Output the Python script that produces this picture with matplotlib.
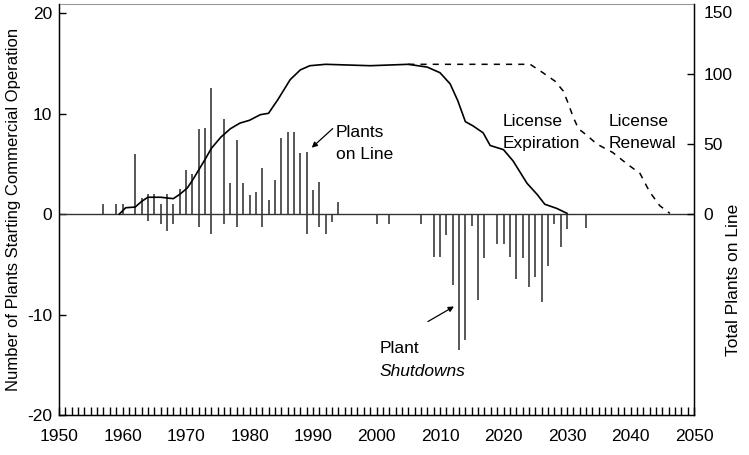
import numpy as np
import matplotlib
matplotlib.use('Agg')
import matplotlib.pyplot as plt

plt.rcParams['font.family'] = ['Liberation Sans', 'DejaVu Sans']
plt.rcParams['font.size'] = 12.5

# Plants starting commercial operation, per year
start_years = [1957, 1959, 1960, 1962, 1963, 1964, 1965, 1966, 1967, 1968, 1969,
               1970, 1971, 1972, 1973, 1974, 1976, 1977, 1978, 1979, 1980, 1981,
               1982, 1983, 1984, 1985, 1986, 1987, 1988, 1989, 1990, 1991, 1994]
starts = [1, 1, 1, 6, 1.6, 2, 2, 1, 2, 1, 2.5,
          4.4, 4, 8.5, 8.6, 12.5, 9.5, 3.1, 7.4, 3.1, 1.9, 2.2,
          4.6, 1.4, 3.4, 7.6, 8.2, 8.2, 6.1, 6.2, 2.4, 3.2, 1.2]

# Plant shutdowns, per year (negative)
stop_years = [1964, 1966, 1967, 1968, 1972, 1974, 1976, 1978, 1982, 1989, 1991,
              1992, 1993, 2000, 2002, 2007, 2009, 2010, 2011, 2012, 2013, 2014,
              2015, 2016, 2017, 2019, 2020, 2021, 2022, 2023, 2024, 2025, 2026,
              2027, 2028, 2029, 2030, 2033]
stops = [-0.7, -1, -1.7, -1, -1.3, -2, -1, -1.3, -1.3, -2, -1.3,
         -2, -0.8, -1, -1, -1, -4.3, -4.3, -2.1, -7.1, -13.5, -12.5,
         -1.2, -8.6, -4.4, -3, -3, -4.3, -6.5, -4.4, -7.3, -6.3, -8.8,
         -5.2, -1, -3.3, -1.5, -1.4]

# Total plants on line (license expiration)
online_years = [1959.5, 1960.5, 1962, 1963, 1964, 1966, 1968, 1969, 1970.2, 1971,
                1972.2, 1973, 1974, 1975.5, 1977, 1978.5, 1980, 1981.7, 1983,
                1984.5, 1986.4, 1988, 1989.5, 1992, 1999, 2005, 2008, 2010,
                2011.6, 2012.8, 2014, 2015.2, 2016.8, 2017.9, 2020, 2021.5,
                2023.7, 2025.3, 2026.5, 2028.4, 2030]
online = [0, 4.5, 5, 9, 12, 12, 11, 14, 18.6, 24,
          33, 39, 47, 55, 61, 65, 67, 71, 72,
          82, 96, 103, 106, 107, 106, 107, 105, 101,
          93, 81, 66, 63, 58, 49, 46, 38,
          22, 14, 7, 4, 0.5]

# Total plants on line (license renewal)
renew_years = [2005, 2024.2, 2026.2, 2028.1, 2029.4, 2030.2, 2031, 2031.8, 2033.2,
               2034.7, 2037.2, 2039.4, 2041.5, 2043, 2044.6, 2046.2]
renew = [107, 107, 101, 95, 88, 79, 69, 61, 56,
         50, 44, 36, 29, 16, 6, 0.5]

fig = plt.figure(figsize=(7.49, 4.55), dpi=100)
ax = fig.add_axes([59/749, 40/455, (694-59)/749, 411/455])
ax2 = ax.twinx()

ax.vlines(start_years, 0, starts, color='#2a2a2a', lw=1.1)
ax.vlines(stop_years, 0, stops, color='#2a2a2a', lw=1.1)
ax.axhline(0, color='#333333', lw=1)

ax.set_xlim(1950, 2050)
ax.set_ylim(-20, 20.9)
ax.set_xticks(np.arange(1950, 2051, 10))
ax.set_xticks(np.arange(1950, 2051, 1), minor=True)
ax.set_yticks([-20, -10, 0, 10, 20])
ax.set_yticklabels(['-20', '-10', '0', '10', '20'])
ax.tick_params(axis='x', which='both', direction='in', length=6, width=1, pad=10)
ax.tick_params(axis='y', direction='in', length=5, width=1, pad=5)
ax.set_ylabel('Number of Plants Starting Commercial Operation', fontsize=12, labelpad=4)
for s in ['left', 'bottom', 'right']:
    ax.spines[s].set_linewidth(1)
ax.spines['top'].set_color('#999999')
ax.spines['top'].set_linewidth(0.8)

ax2.plot(online_years, online, color='black', lw=1.2)
ax2.plot(renew_years, renew, color='black', lw=1.1, ls=(0, (4, 4)))
ax2.set_ylim(-143.6, 150.1)
ax2.set_yticks([0, 50, 100])
ax2.tick_params(axis='y', direction='in', length=5, width=1, pad=7)
ax2.annotate('150', xy=(1.0, 143), xycoords=('axes fraction', 'data'),
             xytext=(7, 0), textcoords='offset points', ha='left', va='center',
             fontsize=12.5)
ax2.spines['top'].set_visible(False)
fig.text(733/749, 1 - 280/455, 'Total Plants on Line', rotation=90,
         ha='center', va='center', fontsize=12.5)

# annotations
ax.text(1993.6, 7.0, 'Plants\non Line', ha='left', va='center', fontsize=12.5,
        linespacing=1.55)
ax.annotate('', xy=(1989.8, 6.6), xytext=(1993.1, 8.5),
            arrowprops=dict(arrowstyle='-|>', color='black', lw=0.9,
                            mutation_scale=8, shrinkA=0, shrinkB=0))
ax.text(2019.8, 8.1, 'License\nExpiration', ha='left', va='center', fontsize=12.5,
        linespacing=1.6)
ax.text(2036.5, 8.1, 'License\nRenewal', ha='left', va='center', fontsize=12.5,
        linespacing=1.6)
ax.text(2000.5, -13.4, 'Plant', ha='left', va='center', fontsize=12.5)
ax.text(2000.5, -15.7, 'Shutdowns', ha='left', va='center', fontsize=12.5,
        style='italic')
ax.annotate('', xy=(2012.2, -9.2), xytext=(2008.1, -10.7),
            arrowprops=dict(arrowstyle='-|>', color='black', lw=0.9,
                            mutation_scale=8, shrinkA=0, shrinkB=0))

fig.savefig('out.png', dpi=100)
